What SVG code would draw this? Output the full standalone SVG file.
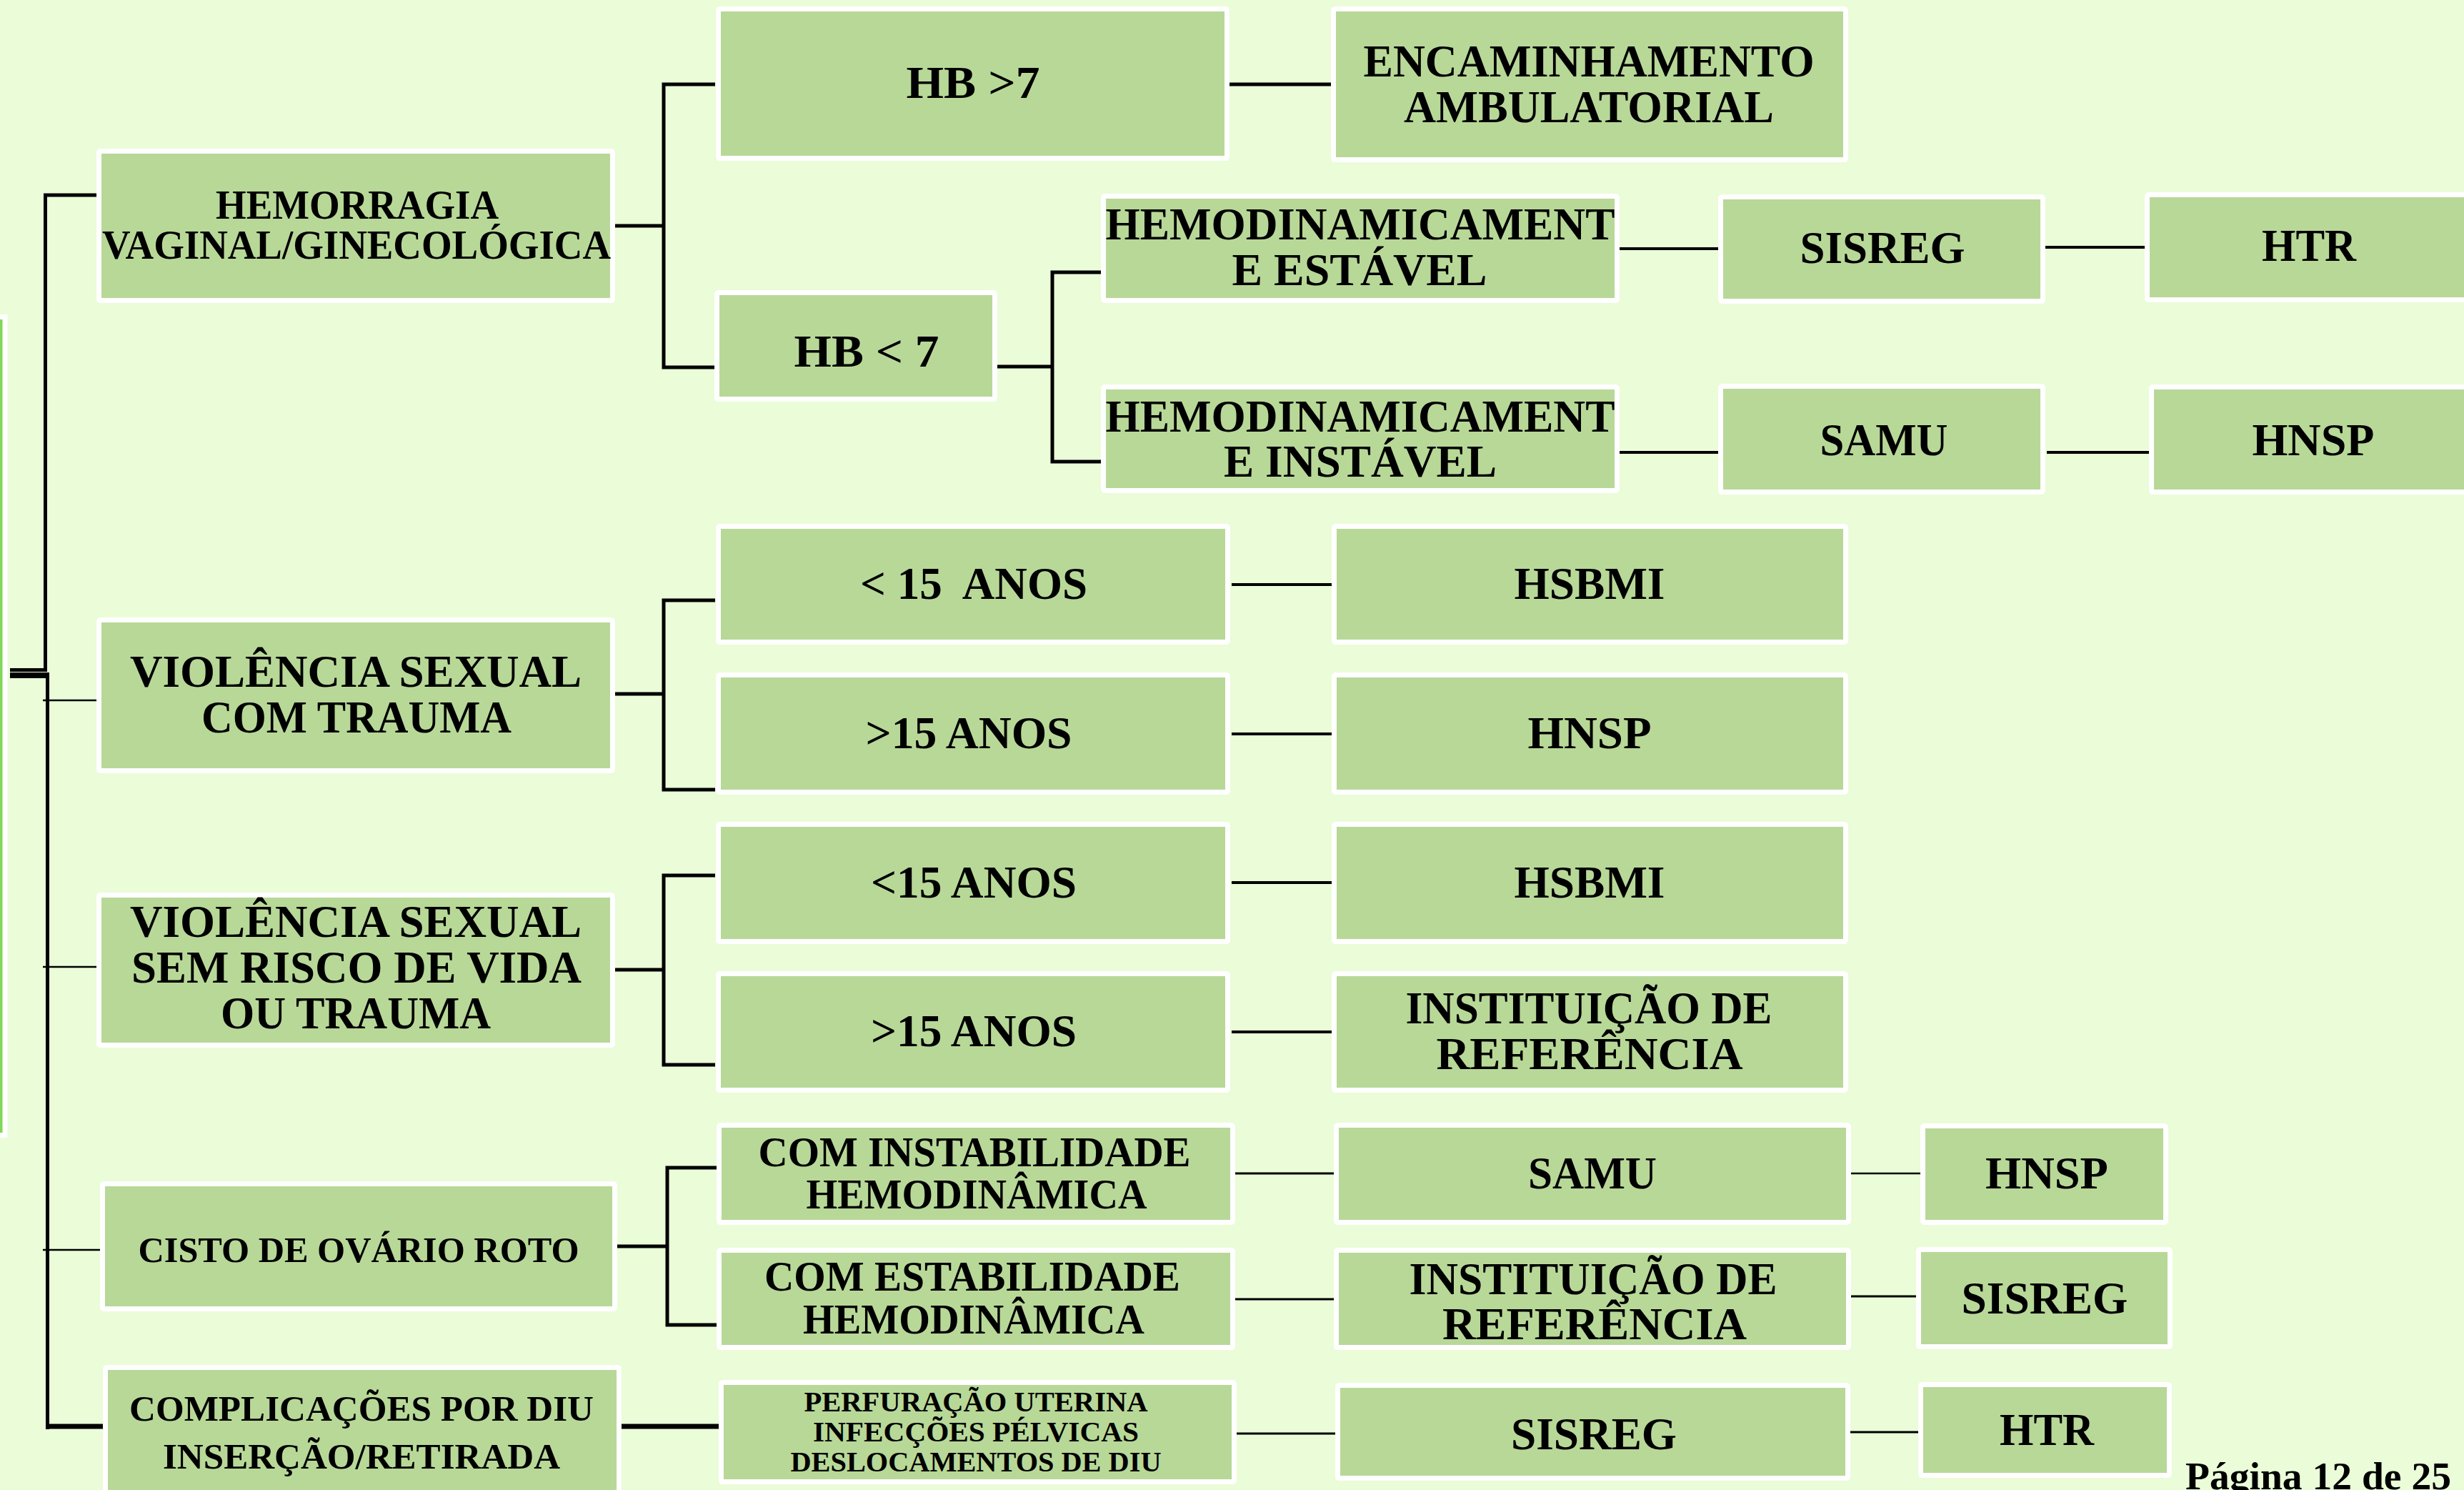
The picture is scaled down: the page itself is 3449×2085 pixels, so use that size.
<svg xmlns="http://www.w3.org/2000/svg" width="3449" height="2085" viewBox="0 0 3449 2085">
<style>
.bg{fill:#EAFCD8}
.box{fill:#B8D898;stroke:#FFFFFF;stroke-width:7}
.bar{fill:#80D858;stroke:#FFFFFF;stroke-width:7}
.t{font-family:"Liberation Serif","Times New Roman",serif;font-weight:bold;fill:#000;text-anchor:middle}
.f64{font-size:64px}.f56{font-size:56px}.f51{font-size:51px}.f50{font-size:50px}.f59{font-size:59px}.f41{font-size:41px}
.c{stroke:#000;fill:none;stroke-linecap:butt}
.w5{stroke-width:5}.w4{stroke-width:4}.w3{stroke-width:3}.w2{stroke-width:2.5}.w7{stroke-width:7}.w8{stroke-width:8}
</style>
<rect class="bg" x="0" y="0" width="3449" height="2085"/>
<rect class="bar" x="-20" y="443.5" width="27" height="1145"/>

<g id="connectors">
<line class="c w5" x1="63.5" y1="271" x2="63.5" y2="940"/>
<line class="c w5" x1="61" y1="273" x2="136" y2="273"/>
<line class="c w5" x1="14" y1="937.5" x2="66" y2="937.5"/>
<line class="c w8" x1="14" y1="945" x2="69" y2="945"/>
<line class="c w5" x1="66.5" y1="941" x2="66.5" y2="2000"/>
<line class="c w2" x1="60" y1="980" x2="136" y2="980"/>
<line class="c w2" x1="60" y1="1353" x2="136" y2="1353"/>
<line class="c w2" x1="60" y1="1749" x2="141" y2="1749"/>
<line class="c w7" x1="64" y1="1996" x2="145" y2="1996"/>
<line class="c w7" x1="862" y1="1996" x2="1007" y2="1996"/>
<polyline class="c w5" points="861,316 929,316"/>
<polyline class="c w5" points="1001,118 929,118 929,514 1001,514"/>
<polyline class="c w5" points="1396,513 1473,513"/>
<polyline class="c w5" points="1542,381 1473,381 1473,646 1542,646"/>
<polyline class="c w5" points="861,971 929,971"/>
<polyline class="c w5" points="1001,840 929,840 929,1105 1001,1105"/>
<polyline class="c w5" points="861,1357 929,1357"/>
<polyline class="c w5" points="1001,1225 929,1225 929,1490 1001,1490"/>
<polyline class="c w5" points="864,1744 934,1744"/>
<polyline class="c w5" points="1004,1634 934,1634 934,1854 1004,1854"/>
<line class="c w5" x1="1721" y1="118" x2="1863" y2="118"/>
<line class="c w4" x1="2267" y1="348" x2="2405" y2="348"/>
<line class="c w4" x1="2863" y1="346" x2="3002" y2="346"/>
<line class="c w4" x1="2267" y1="633" x2="2405" y2="633"/>
<line class="c w4" x1="2865" y1="633" x2="3008" y2="633"/>
<line class="c w4" x1="1724" y1="818" x2="1864" y2="818"/>
<line class="c w4" x1="1724" y1="1027" x2="1864" y2="1027"/>
<line class="c w4" x1="1724" y1="1235" x2="1864" y2="1235"/>
<line class="c w4" x1="1724" y1="1444" x2="1864" y2="1444"/>
<line class="c w3" x1="1729" y1="1642" x2="1867" y2="1642"/>
<line class="c w2" x1="2591" y1="1642" x2="2688" y2="1642"/>
<line class="c w3" x1="1729" y1="1818" x2="1867" y2="1818"/>
<line class="c w3" x1="2591" y1="1814" x2="2682" y2="1814"/>
<line class="c w3" x1="1724" y1="2006" x2="1869" y2="2006"/>
<line class="c w3" x1="2590" y1="2004" x2="2685" y2="2004"/>
</g>

<g id="n-hemorragia"><rect class="box" x="138.5" y="211.5" width="719" height="209" rx="2"/>
<text class="t f56" x="500" y="306" textLength="396" lengthAdjust="spacingAndGlyphs">HEMORRAGIA</text>
<text class="t f56" x="499" y="362" textLength="712" lengthAdjust="spacingAndGlyphs">VAGINAL/GINECOLÓGICA</text></g>

<g id="n-viol-com"><rect class="box" x="138.5" y="867.5" width="719" height="211" rx="2"/>
<text class="t f64" x="498" y="961" textLength="632" lengthAdjust="spacingAndGlyphs">VIOLÊNCIA SEXUAL</text>
<text class="t f64" x="499" y="1025" textLength="434" lengthAdjust="spacingAndGlyphs">COM TRAUMA</text></g>

<g id="n-viol-sem"><rect class="box" x="138.5" y="1252.5" width="719" height="210" rx="2"/>
<text class="t f64" x="498" y="1311" textLength="632" lengthAdjust="spacingAndGlyphs">VIOLÊNCIA SEXUAL</text>
<text class="t f64" x="499" y="1375" textLength="630" lengthAdjust="spacingAndGlyphs">SEM RISCO DE VIDA</text>
<text class="t f64" x="498" y="1439" textLength="378" lengthAdjust="spacingAndGlyphs">OU TRAUMA</text></g>

<g id="n-cisto"><rect class="box" x="143.5" y="1656.5" width="717" height="175" rx="2"/>
<text class="t f51" x="502" y="1766" textLength="617" lengthAdjust="spacingAndGlyphs">CISTO DE OVÁRIO ROTO</text></g>

<g id="n-complic"><rect class="box" x="147.5" y="1913.5" width="719" height="200" rx="2"/>
<text class="t f50" x="506" y="1988" textLength="650" lengthAdjust="spacingAndGlyphs">COMPLICAÇÕES POR DIU</text>
<text class="t f50" x="506" y="2055" textLength="556" lengthAdjust="spacingAndGlyphs">INSERÇÃO/RETIRADA</text></g>

<g id="n-hb-maior"><rect class="box" x="1005.5" y="12.5" width="712" height="209" rx="2"/>
<text class="t f64" x="1362" y="137" textLength="187" lengthAdjust="spacingAndGlyphs">HB &gt;7</text></g>

<g id="n-hb-menor"><rect class="box" x="1003.5" y="409.5" width="389" height="149" rx="2"/>
<text class="t f64" x="1213" y="513" textLength="203" lengthAdjust="spacingAndGlyphs">HB &lt; 7</text></g>

<g id="n-hemo-estavel"><rect class="box" x="1544.5" y="274.5" width="719" height="146" rx="2"/>
<text class="t f64" x="1904" y="335" textLength="713" lengthAdjust="spacingAndGlyphs">HEMODINAMICAMENT</text>
<text class="t f64" x="1903" y="399" textLength="357" lengthAdjust="spacingAndGlyphs">E ESTÁVEL</text></g>

<g id="n-hemo-instavel"><rect class="box" x="1544.5" y="541.5" width="719" height="145" rx="2"/>
<text class="t f64" x="1904" y="604" textLength="713" lengthAdjust="spacingAndGlyphs">HEMODINAMICAMENT</text>
<text class="t f64" x="1904" y="667" textLength="382" lengthAdjust="spacingAndGlyphs">E INSTÁVEL</text></g>

<g id="n-encaminhamento"><rect class="box" x="1866.5" y="12.5" width="717" height="211" rx="2"/>
<text class="t f64" x="2224" y="107" textLength="631" lengthAdjust="spacingAndGlyphs">ENCAMINHAMENTO</text>
<text class="t f64" x="2224" y="171" textLength="518" lengthAdjust="spacingAndGlyphs">AMBULATORIAL</text></g>

<g id="n-sisreg1"><rect class="box" x="2408.5" y="275.5" width="451" height="146" rx="2"/>
<text class="t f64" x="2635" y="368" textLength="231" lengthAdjust="spacingAndGlyphs">SISREG</text></g>

<g id="n-samu1"><rect class="box" x="2408.5" y="540.5" width="451" height="148" rx="2"/>
<text class="t f64" x="2637" y="637" textLength="179" lengthAdjust="spacingAndGlyphs">SAMU</text></g>

<g id="n-htr1"><rect class="box" x="3005.5" y="272.5" width="460" height="147" rx="2"/>
<text class="t f64" x="3232" y="365" textLength="132" lengthAdjust="spacingAndGlyphs">HTR</text></g>

<g id="n-hnsp1"><rect class="box" x="3011.5" y="541.5" width="460" height="147" rx="2"/>
<text class="t f64" x="3238" y="637" textLength="171" lengthAdjust="spacingAndGlyphs">HNSP</text></g>

<g id="n-menor15a"><rect class="box" x="1005.5" y="736.5" width="713" height="162" rx="2"/>
<text class="t f64" x="1363" y="838" textLength="318" lengthAdjust="spacingAndGlyphs" xml:space="preserve">&lt; 15  ANOS</text></g>

<g id="n-maior15a"><rect class="box" x="1005.5" y="944.5" width="713" height="164" rx="2"/>
<text class="t f64" x="1356" y="1047" textLength="289" lengthAdjust="spacingAndGlyphs">&gt;15 ANOS</text></g>

<g id="n-menor15b"><rect class="box" x="1005.5" y="1153.5" width="713" height="164" rx="2"/>
<text class="t f64" x="1363" y="1256" textLength="288" lengthAdjust="spacingAndGlyphs">&lt;15 ANOS</text></g>

<g id="n-maior15b"><rect class="box" x="1005.5" y="1362.5" width="713" height="163" rx="2"/>
<text class="t f64" x="1363" y="1464" textLength="288" lengthAdjust="spacingAndGlyphs">&gt;15 ANOS</text></g>

<g id="n-hsbmi1"><rect class="box" x="1867.5" y="736.5" width="716" height="162" rx="2"/>
<text class="t f64" x="2225" y="838" textLength="211" lengthAdjust="spacingAndGlyphs">HSBMI</text></g>

<g id="n-hnsp2"><rect class="box" x="1867.5" y="944.5" width="716" height="164" rx="2"/>
<text class="t f64" x="2225" y="1047" textLength="173" lengthAdjust="spacingAndGlyphs">HNSP</text></g>

<g id="n-hsbmi2"><rect class="box" x="1867.5" y="1153.5" width="716" height="164" rx="2"/>
<text class="t f64" x="2225" y="1256" textLength="211" lengthAdjust="spacingAndGlyphs">HSBMI</text></g>

<g id="n-instituicao1"><rect class="box" x="1867.5" y="1362.5" width="716" height="163" rx="2"/>
<text class="t f64" x="2224" y="1432" textLength="513" lengthAdjust="spacingAndGlyphs">INSTITUIÇÃO DE</text>
<text class="t f64" x="2225" y="1496" textLength="429" lengthAdjust="spacingAndGlyphs">REFERÊNCIA</text></g>

<g id="n-com-instab"><rect class="box" x="1006.5" y="1574.5" width="719" height="136" rx="2"/>
<text class="t f59" x="1364" y="1632" textLength="605" lengthAdjust="spacingAndGlyphs">COM INSTABILIDADE</text>
<text class="t f59" x="1367" y="1691" textLength="477" lengthAdjust="spacingAndGlyphs">HEMODINÂMICA</text></g>

<g id="n-com-estab"><rect class="box" x="1006.5" y="1749.5" width="719" height="136" rx="2"/>
<text class="t f59" x="1361" y="1806" textLength="582" lengthAdjust="spacingAndGlyphs">COM ESTABILIDADE</text>
<text class="t f59" x="1363" y="1866" textLength="478" lengthAdjust="spacingAndGlyphs">HEMODINÂMICA</text></g>

<g id="n-perfuracao"><rect class="box" x="1009.5" y="1934.5" width="718" height="139" rx="2"/>
<text class="t f41" x="1366" y="1975" textLength="481" lengthAdjust="spacingAndGlyphs">PERFURAÇÃO UTERINA</text>
<text class="t f41" x="1366" y="2017" textLength="456" lengthAdjust="spacingAndGlyphs">INFECÇÕES PÉLVICAS</text>
<text class="t f41" x="1366" y="2059" textLength="519" lengthAdjust="spacingAndGlyphs">DESLOCAMENTOS DE DIU</text></g>

<g id="n-samu2"><rect class="box" x="1870.5" y="1574.5" width="717" height="136" rx="2"/>
<text class="t f64" x="2229" y="1663" textLength="180" lengthAdjust="spacingAndGlyphs">SAMU</text></g>

<g id="n-instituicao2"><rect class="box" x="1870.5" y="1749.5" width="717" height="136" rx="2"/>
<text class="t f64" x="2230" y="1811" textLength="515" lengthAdjust="spacingAndGlyphs">INSTITUIÇÃO DE</text>
<text class="t f64" x="2232" y="1874" textLength="426" lengthAdjust="spacingAndGlyphs">REFERÊNCIA</text></g>

<g id="n-sisreg2"><rect class="box" x="1872.5" y="1938.5" width="714" height="130" rx="2"/>
<text class="t f64" x="2231" y="2028" textLength="232" lengthAdjust="spacingAndGlyphs">SISREG</text></g>

<g id="n-hnsp3"><rect class="box" x="2691.5" y="1575.5" width="340" height="135" rx="2"/>
<text class="t f64" x="2865" y="1663" textLength="172" lengthAdjust="spacingAndGlyphs">HNSP</text></g>

<g id="n-sisreg3"><rect class="box" x="2685.5" y="1748.5" width="352" height="136" rx="2"/>
<text class="t f64" x="2862" y="1838" textLength="233" lengthAdjust="spacingAndGlyphs">SISREG</text></g>

<g id="n-htr2"><rect class="box" x="2688.5" y="1937.5" width="348" height="127" rx="2"/>
<text class="t f64" x="2865" y="2022" textLength="132" lengthAdjust="spacingAndGlyphs">HTR</text></g>

<text class="t" style="font-size:54px" x="3245" y="2084" textLength="372" lengthAdjust="spacingAndGlyphs">Página 12 de 25</text>
</svg>
